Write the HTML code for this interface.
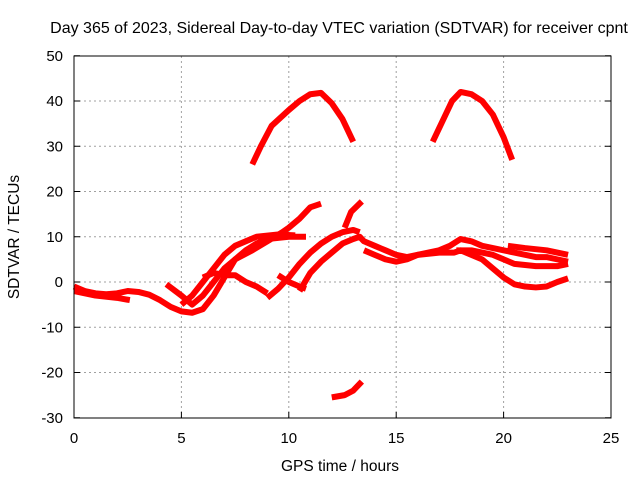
<!DOCTYPE html>
<html><head><meta charset="utf-8"><style>
body{margin:0;background:#fff}
svg{display:block;font-family:"Liberation Sans",sans-serif}
</style></head><body>
<svg id="chart" width="640" height="480">
<text x="339" y="33" font-size="16" text-anchor="middle">Day 365 of 2023, Sidereal Day-to-day VTEC variation (SDTVAR) for receiver cpnt</text>
<text x="340" y="471" font-size="15.5" text-anchor="middle">GPS time / hours</text>
<text transform="translate(19,237) rotate(-90)" font-size="15.5" text-anchor="middle">SDTVAR / TECUs</text>
<g id="grid"></g><g id="series"></g>
<rect x="74" y="56" width="537" height="362" fill="none" stroke="#000" stroke-width="1"/>
</svg>
<script>
const xTicks=[0,5,10,15,20,25];
const yTicks=[-30,-20,-10,0,10,20,30,40,50];
const arc1=[[8.3,26],[8.7,30],[9.2,34.5],[10,38],[10.5,40],[11,41.5],[11.5,41.8],[12,39.5],[12.5,36],[13,31]];
const arc2=[[16.7,31],[17.2,36],[17.6,40],[18,42],[18.5,41.5],[19,40],[19.5,37],[20,32],[20.4,27]];
const low=[[12,-25.5],[12.6,-25],[13,-24],[13.4,-22]];
const sD=[[0,-1],[0.5,-2],[1,-2.5],[1.5,-2.7],[2,-2.5],[2.5,-2],[3,-2.2],[3.5,-2.8],[4,-4],[4.5,-5.5],[5,-6.5],[5.5,-6.8],[6,-6],[6.5,-3],[7,1],[7.5,5],[8,7],[8.5,8.5],[9,9.5],[10,10],[10.8,10]];
const sE=[[0,-2],[1,-3],[2,-3.5],[2.6,-4]];
const sF=[[4.3,-0.5],[5,-3],[5.5,-5],[6,-3],[6.5,0],[7,3],[7.5,5],[8.3,7],[9,9],[9.7,11],[10,12],[10.5,14],[11,16.5],[11.5,17.3]];
const sG=[[5,-5],[5.5,-3],[6,0],[6.5,3],[7,6],[7.5,8],[8.5,10],[9.5,10.5],[10.3,10.3]];
const sH=[[6,1],[6.5,2],[7,1.5],[7.5,1.5],[8,0],[8.5,-1],[9,-2.5]];
const sI=[[9,-3.5],[9.5,-1.5],[10,1],[10.5,4],[11,6.5],[11.5,8.5],[12,10],[12.5,11],[13,11.5],[13.3,11]];
const sI2=[[12.6,12],[12.9,15.5],[13.4,17.8]];
const sJ=[[9.5,1.5],[10,0],[10.5,-1],[10.8,-1.5]];
const sK=[[10.5,-2],[11,2],[11.5,4.5],[12,6.5],[12.5,8.5],[13,9.5],[13.3,10],[13.5,9],[14,8],[14.5,7],[15,6],[15.5,5.5],[16,6],[16.5,6.5],[17,7],[17.5,8],[18,9.5],[18.5,9],[19,8],[19.5,7.5],[20,7],[20.5,6.5],[21,6],[21.5,5.5],[22,5.5],[22.5,5],[23,4.5]];
const sL=[[13.5,7],[14,6],[14.5,5],[15,4.5],[15.5,5],[16,6],[17,6.5],[17.7,6.5],[18,7],[18.5,6],[19,5],[19.5,3],[20,1],[20.5,-0.5],[21,-1],[21.5,-1.2],[22,-1],[22.5,0],[23,0.8]];
const sM=[[17.8,7],[18.5,7],[19.5,6],[20.5,4],[21.5,3.5],[22.5,3.5],[23,4]];
const sM2=[[20.2,8],[21,7.5],[22,7],[23,6]];
const allSeries=[arc1,arc2,low,sD,sE,sF,sG,sH,sI,sI2,sJ,sK,sL,sM,sM2];
const X=v=>74+v*537/25, Y=v=>282-v*362/80;
const NS='http://www.w3.org/2000/svg';
const grid=document.getElementById('grid'), ser=document.getElementById('series');
function mk(t,a,p){const e=document.createElementNS(NS,t);for(const k in a)e.setAttribute(k,a[k]);p.appendChild(e);return e;}
xTicks.forEach(t=>{
 if(t>0&&t<25){const l=mk('line',{x1:X(t),x2:X(t),y1:56,y2:418,stroke:'#a0a0a0','stroke-dasharray':'2,3'},grid);
 
 }
 mk('line',{x1:X(t),x2:X(t),y1:418,y2:412,stroke:'#000'},grid);
 const tx=mk('text',{x:X(t),y:443,'font-size':15,'text-anchor':'middle'},grid);tx.textContent=t;
 
 
});
yTicks.forEach(t=>{
 if(t>-30&&t<50){const l=mk('line',{x1:74,x2:611,y1:Y(t),y2:Y(t),stroke:'#a0a0a0','stroke-dasharray':'2,3'},grid);
 
 }
 mk('line',{x1:74,x2:80,y1:Y(t),y2:Y(t),stroke:'#000'},grid);
 mk('line',{x1:605,x2:611,y1:Y(t),y2:Y(t),stroke:'#000'},grid);
 const tx=mk('text',{x:63,y:Y(t)+5,'font-size':15,'text-anchor':'end'},grid);tx.textContent=t;
 
 
});
allSeries.forEach(s=>{
 const p=mk('polyline',{points:s.map(d=>X(d[0])+','+Y(d[1])).join(' '),fill:'none',stroke:'#f00','stroke-width':6,'stroke-linejoin':'round','stroke-linecap':'butt'},ser);
 
 
});
</script>
</body></html>
